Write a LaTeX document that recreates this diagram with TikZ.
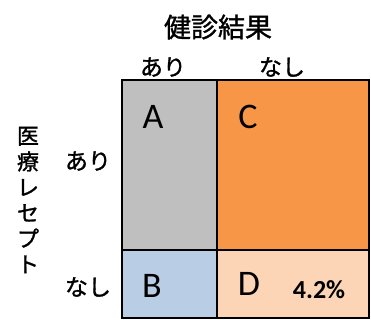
\documentclass[tikz,border=0pt]{standalone}
\usepackage{fontspec}
\setmainfont{Carlito}
\newfontfamily\jp[FakeBold=1.2]{Noto Sans CJK JP}
\definecolor{cgray}{HTML}{BFBFBF}
\definecolor{corange}{HTML}{F79646}
\definecolor{cblue}{HTML}{B9CDE5}
\definecolor{cpeach}{HTML}{FBD5B5}
\begin{document}
\begin{tikzpicture}[x=1pt,y=-1pt,
  cell/.style={draw=black,line width=1.6pt,inner sep=0pt,outer sep=0pt},
  letter/.style={inner sep=0pt,font=\fontsize{36}{36}\selectfont},
  jlab/.style={inner sep=0pt,font=\jp\fontsize{23}{23}\selectfont},
  pct/.style={inner sep=0pt,font=\bfseries\fontsize{26}{26}\selectfont}]
\useasboundingbox (0,0) rectangle (371,320);
\node[cell,fill=cgray,minimum width=95pt,minimum height=170pt] (A) at (169.5,165) {};
\node[cell,fill=corange,minimum width=152pt,minimum height=170pt] (C) at (293,165) {};
\node[cell,fill=cblue,minimum width=95pt,minimum height=68pt] (B) at (169.5,284) {};
\node[cell,fill=cpeach,minimum width=152pt,minimum height=68pt] (D) at (293,284) {};
\node[letter] (la) at (153,117) {A};
\node[letter] (lc) at (248,117) {C};
\node[letter] (lb) at (152,286) {B};
\node[letter] (ld) at (249,284) {D};
\node[pct] (p) at (319,290) {4.2\%};
\node[jlab,font=\jp\fontsize{27}{27}\selectfont] (title) at (218,27) {健診結果};
\node[jlab] (ta) at (163,67) {あり};
\node[jlab] (tn) at (282,67) {なし};
\node[jlab] (la2) at (88,161) {あり};
\node[jlab] (ln2) at (88,287) {なし};
\node[jlab,align=center,font=\jp\fontsize{22}{25.7}\selectfont] (rec) at (28,200) {医\\療\\レ\\セ\\プ\\ト};
\end{tikzpicture}
\end{document}
